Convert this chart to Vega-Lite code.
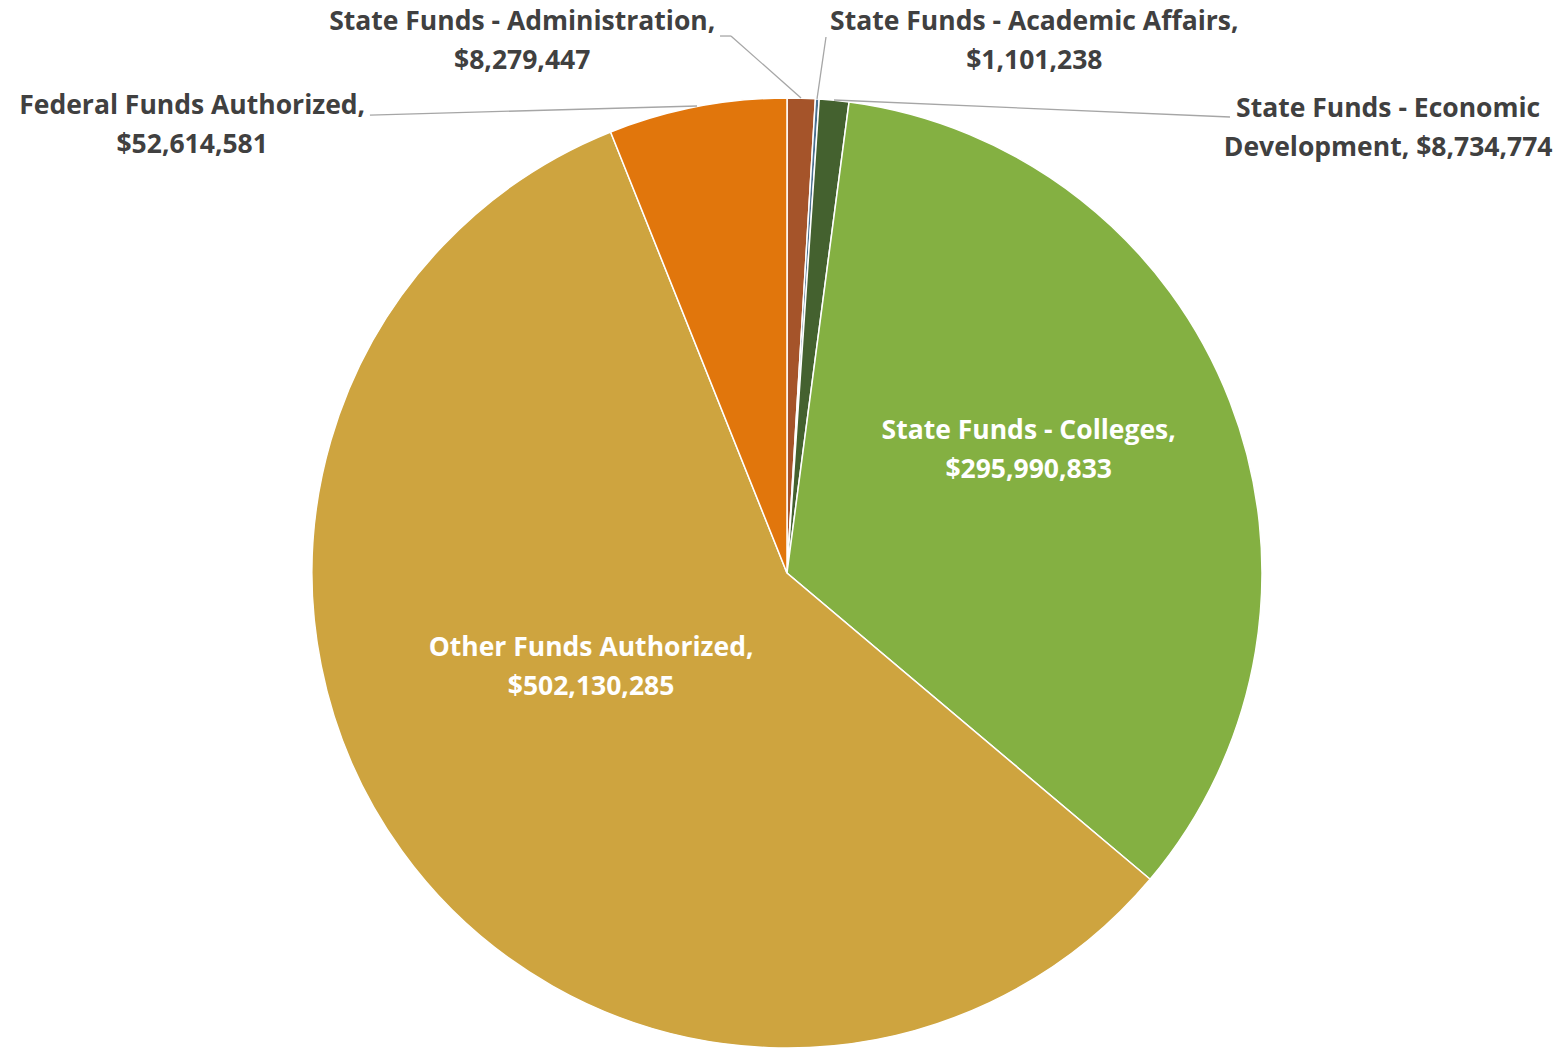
{
  "$schema": "https://vega.github.io/schema/vega-lite/v6.json",
  "autosize": {"type": "none"},
  "width": 1556,
  "height": 956,
  "padding": {"left": 9, "top": 95, "right": 0, "bottom": 0},
  "background": "white",
  "config": {"view": {"stroke": null}, "font": "Open Sans"},
  "data": {
    "values": [
      {"rank": 1, "category": "State Funds - Administration", "amount": 8279447, "label": "State Funds - Administration,\n$8,279,447"},
      {"rank": 2, "category": "State Funds - Academic Affairs", "amount": 1101238, "label": "State Funds - Academic Affairs,\n$1,101,238"},
      {"rank": 3, "category": "State Funds - Economic Development", "amount": 8734774, "label": "State Funds - Economic\nDevelopment, $8,734,774"},
      {"rank": 4, "category": "State Funds - Colleges", "amount": 295990833, "label": "State Funds - Colleges,\n$295,990,833"},
      {"rank": 5, "category": "Other Funds Authorized", "amount": 502130285, "label": "Other Funds Authorized,\n$502,130,285"},
      {"rank": 6, "category": "Federal Funds Authorized", "amount": 52614581, "label": "Federal Funds Authorized,\n$52,614,581"}
    ]
  },
  "encoding": {
    "theta": {"field": "amount", "type": "quantitative", "stack": true},
    "order": {"field": "rank", "type": "quantitative"}
  },
  "layer": [
    {
      "mark": {"type": "arc", "outerRadius": 475, "stroke": "white", "strokeWidth": 1.5},
      "encoding": {
        "color": {
          "field": "category", "type": "nominal", "legend": null,
          "scale": {
            "domain": ["State Funds - Administration", "State Funds - Academic Affairs", "State Funds - Economic Development", "State Funds - Colleges", "Other Funds Authorized", "Federal Funds Authorized"],
            "range": ["#a5542a", "#4a7090", "#44612f", "#84b042", "#cea43f", "#e1760c"]
          }
        }
      }
    },
    {
      "mark": {"type": "text", "radius": 271, "dx": -11, "dy": -44, "align": "center", "baseline": "middle", "fontSize": 26.5, "fontWeight": "bold", "lineBreak": "\n", "lineHeight": 39, "fill": "white"},
      "encoding": {"text": {"condition": {"test": "datum.rank === 4", "field": "label"}, "value": ""}}
    },
    {
      "mark": {"type": "text", "radius": 217, "dx": -20, "dy": -52, "align": "center", "baseline": "middle", "fontSize": 26.5, "fontWeight": "bold", "lineBreak": "\n", "lineHeight": 39, "fill": "white"},
      "encoding": {"text": {"condition": {"test": "datum.rank === 5", "field": "label"}, "value": ""}}
    },
    {
      "mark": {"type": "text", "radius": 475, "dx": -279, "dy": -76, "align": "center", "baseline": "middle", "fontSize": 26.5, "fontWeight": "bold", "lineBreak": "\n", "lineHeight": 39, "fill": "#404040"},
      "encoding": {"text": {"condition": {"test": "datum.rank === 1", "field": "label"}, "value": ""}}
    },
    {
      "mark": {"type": "text", "radius": 475, "dx": 217, "dy": -77, "align": "center", "baseline": "middle", "fontSize": 26.5, "fontWeight": "bold", "lineBreak": "\n", "lineHeight": 39, "fill": "#404040"},
      "encoding": {"text": {"condition": {"test": "datum.rank === 2", "field": "label"}, "value": ""}}
    },
    {
      "mark": {"type": "text", "radius": 475, "dx": 554, "dy": 9, "align": "center", "baseline": "middle", "fontSize": 26.5, "fontWeight": "bold", "lineBreak": "\n", "lineHeight": 39, "fill": "#404040"},
      "encoding": {"text": {"condition": {"test": "datum.rank === 3", "field": "label"}, "value": ""}}
    },
    {
      "mark": {"type": "text", "radius": 475, "dx": -505, "dy": -1, "align": "center", "baseline": "middle", "fontSize": 26.5, "fontWeight": "bold", "lineBreak": "\n", "lineHeight": 39, "fill": "#404040"},
      "encoding": {"text": {"condition": {"test": "datum.rank === 6", "field": "label"}, "value": ""}}
    },
    {
      "data": {"values": [{}]},
      "mark": {"type": "rule", "color": "#a6a6a6", "strokeWidth": 1.3},
      "encoding": {
        "theta": null, "order": null,
        "x": {"datum": -0.141, "type": "quantitative", "axis": null, "scale": {"domain": [-1.63789, 1.63789], "nice": false, "zero": false}},
        "y": {"datum": 1.1305, "type": "quantitative", "axis": null, "scale": {"domain": [-1.00632, 1.00632], "nice": false, "zero": false}},
        "x2": {"datum": -0.118},
        "y2": {"datum": 1.1305}
      }
    },
    {
      "data": {"values": [{}]},
      "mark": {"type": "rule", "color": "#a6a6a6", "strokeWidth": 1.3},
      "encoding": {
        "theta": null, "order": null,
        "x": {"datum": -0.118, "type": "quantitative"},
        "y": {"datum": 1.1305, "type": "quantitative"},
        "x2": {"datum": 0.0295},
        "y2": {"datum": 1.0}
      }
    },
    {
      "data": {"values": [{}]},
      "mark": {"type": "rule", "color": "#a6a6a6", "strokeWidth": 1.3},
      "encoding": {
        "theta": null, "order": null,
        "x": {"datum": 0.0632, "type": "quantitative"},
        "y": {"datum": 0.998, "type": "quantitative"},
        "x2": {"datum": 0.0821},
        "y2": {"datum": 1.1284}
      }
    },
    {
      "data": {"values": [{}]},
      "mark": {"type": "rule", "color": "#a6a6a6", "strokeWidth": 1.3},
      "encoding": {
        "theta": null, "order": null,
        "x": {"datum": 0.0989, "type": "quantitative"},
        "y": {"datum": 0.9958, "type": "quantitative"},
        "x2": {"datum": 0.9326},
        "y2": {"datum": 0.96}
      }
    },
    {
      "data": {"values": [{}]},
      "mark": {"type": "rule", "color": "#a6a6a6", "strokeWidth": 1.3},
      "encoding": {
        "theta": null, "order": null,
        "x": {"datum": -0.878, "type": "quantitative"},
        "y": {"datum": 0.964, "type": "quantitative"},
        "x2": {"datum": -0.1895},
        "y2": {"datum": 0.9832}
      }
    }
  ]
}
